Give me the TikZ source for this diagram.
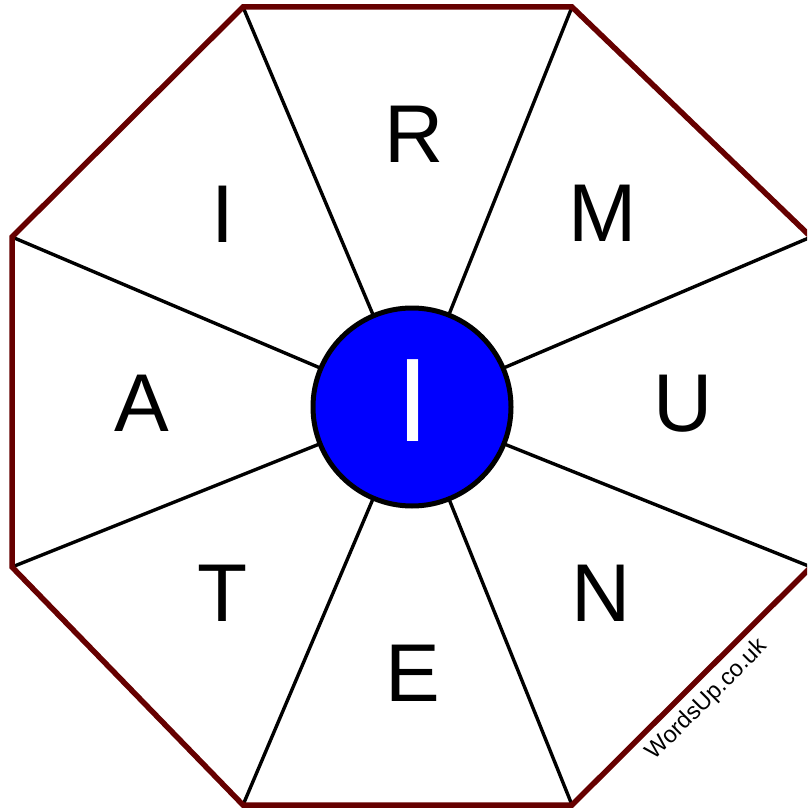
\documentclass[tikz,border=0pt]{standalone}
\usepackage{fontspec}
\setmainfont{Liberation Sans}
\definecolor{rim}{HTML}{660000}
\definecolor{hub}{HTML}{0000FF}
\begin{document}
\begin{tikzpicture}[x=1pt,y=-1pt,
  spoke/.style={line width=3.4pt,black},
  rimline/.style={line width=5.5pt,rim,line join=miter},
  hubdisc/.style={circle,fill=hub,draw=black,line width=5pt,minimum size=198pt,inner sep=0pt},
  letter/.style={inner sep=0pt,font=\fontsize{82}{82}\selectfont}]
\useasboundingbox (0,0) rectangle (807,810);
\clip (0,0) rectangle (807,810);
\coordinate (v1) at (243,7);
\coordinate (v2) at (572,7);
\coordinate (v3) at (811,237);
\coordinate (v4) at (811,567);
\coordinate (v5) at (572,805);
\coordinate (v6) at (243,805);
\coordinate (v7) at (12,567);
\coordinate (v8) at (12,237);
\coordinate (o) at (412,407);
\foreach \i in {1,...,8} \draw[spoke] (v\i) -- (o);
\draw[rimline] (v1) -- (v2) -- (v3) -- (v4) -- (v5) -- (v6) -- (v7) -- (v8) -- cycle;
\node[hubdisc] (c) at (o) {};
\node[inner sep=0pt,text=white,font=\fontsize{119}{119}\selectfont] (ci) at (413,400.5) {I};
\node[letter] (lR) at (414,134) {R};
\node[letter] (lM) at (603,213.5) {M};
\node[letter] (lU) at (683.5,404) {U};
\node[letter] (lN) at (601.5,593.5) {N};
\node[letter] (lE) at (413,673.5) {E};
\node[letter] (lT) at (223,593.5) {T};
\node[letter] (lA) at (141.5,403.5) {A};
\node[letter] (lI) at (223,214) {I};
\node[inner sep=0pt,rotate=45,font=\fontsize{23.5}{23.5}\selectfont] (wm) at (707,700) {WordsUp.co.uk};
\end{tikzpicture}
\end{document}
